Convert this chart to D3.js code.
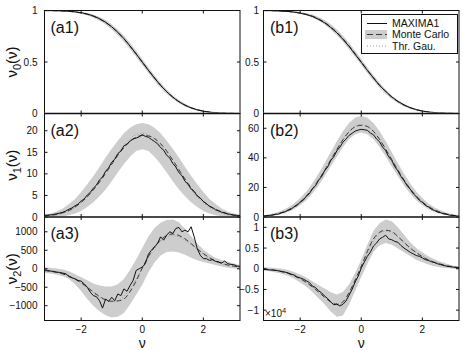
<!DOCTYPE html>
<html>
<head>
<meta charset="utf-8">
<script src="https://cdn.jsdelivr.net/npm/d3@7"></script>
<style>
  body { margin: 0; background: #fff; }
  svg { display: block; font-family: "Liberation Sans", Arial, sans-serif; }
</style>
</head>
<body>
<svg id="chart" width="463" height="350"></svg>
<script>
// ---- grids (threshold nu) ----------------------------------------
const nuCoarse = [-3.2,-3.0,-2.8,-2.6,-2.4,-2.2,-2.0,-1.8,-1.6,-1.4,-1.2,-1.0,-0.8,-0.6,-0.4,-0.2,0,
                  0.2,0.4,0.6,0.8,1.0,1.2,1.4,1.6,1.8,2.0,2.2,2.4,2.6,2.8,3.0,3.2];
const nuFine = [-3.2,-3.1,-3.0,-2.9,-2.8,-2.7,-2.6,-2.5,-2.4,-2.3,-2.2,-2.1,-2.0,-1.9,-1.8,-1.7,-1.6,
                -1.5,-1.4,-1.3,-1.2,-1.1,-1.0,-0.9,-0.8,-0.7,-0.6,-0.5,-0.4,-0.3,-0.2,-0.1,0,
                0.1,0.2,0.3,0.4,0.5,0.6,0.7,0.8,0.9,1.0,1.1,1.2,1.3,1.4,1.5,1.6,1.7,1.8,1.9,2.0,
                2.1,2.2,2.3,2.4,2.5,2.6,2.7,2.8,2.9,3.0,3.1,3.2];

// ---- v0 (row 1) ---------------------------------------------------
const v0Thr   = [0.999,0.999,0.997,0.995,0.992,0.986,0.977,0.964,0.945,0.919,0.885,0.841,0.788,0.726,0.655,0.579,0.5,
                 0.421,0.345,0.274,0.212,0.159,0.115,0.081,0.055,0.036,0.023,0.014,0.008,0.005,0.003,0.001,0.001];
const v0Upper = [1.0,1.0,0.999,0.998,0.996,0.992,0.985,0.975,0.96,0.938,0.907,0.866,0.816,0.756,0.686,0.61,0.53,
                 0.45,0.372,0.299,0.234,0.178,0.13,0.094,0.065,0.044,0.029,0.018,0.011,0.007,0.004,0.002,0.001];
const v0Lower = [0.998,0.997,0.995,0.992,0.988,0.98,0.969,0.953,0.93,0.9,0.863,0.816,0.76,0.696,0.624,0.548,0.47,
                 0.392,0.318,0.249,0.19,0.14,0.1,0.068,0.045,0.028,0.017,0.01,0.005,0.003,0.001,0,0];
const a1Maxima = [1.0,0.999,0.998,0.996,0.993,0.987,0.979,0.966,0.947,0.921,0.886,0.842,0.789,0.727,0.655,0.578,0.499,
                  0.42,0.344,0.273,0.211,0.158,0.114,0.08,0.054,0.035,0.022,0.013,0.008,0.004,0.002,0.001,0.0];
const a1Mc     = [0.999,0.998,0.997,0.995,0.991,0.985,0.976,0.963,0.944,0.918,0.884,0.84,0.787,0.725,0.654,0.578,0.5,
                  0.422,0.346,0.275,0.213,0.16,0.116,0.082,0.056,0.037,0.024,0.015,0.009,0.005,0.003,0.002,0.001];
const b1Maxima = [1.0,0.999,0.997,0.994,0.99,0.984,0.974,0.96,0.943,0.914,0.881,0.835,0.784,0.72,0.652,0.574,0.497,
                  0.418,0.345,0.272,0.215,0.16,0.118,0.083,0.057,0.038,0.024,0.015,0.009,0.005,0.003,0.001,0.0];
const b1Mc     = [0.999,0.998,0.997,0.995,0.991,0.985,0.976,0.963,0.945,0.919,0.885,0.841,0.788,0.727,0.656,0.58,0.501,
                  0.422,0.346,0.275,0.213,0.16,0.116,0.082,0.056,0.037,0.024,0.015,0.009,0.005,0.003,0.002,0.001];

// ---- v1 (row 2) ---------------------------------------------------
const a2Thr   = [0.2,0.3,0.5,0.9,1.4,2.2,3.3,4.6,6.3,8.2,10.4,12.6,14.7,16.6,18.1,19.1,19.4,
                 19.1,18.1,16.6,14.7,12.6,10.4,8.2,6.3,4.6,3.3,2.2,1.4,0.9,0.5,0.3,0.2];
const a2Upper = [0.5,0.8,1.3,2.0,3.0,4.2,5.8,7.6,9.5,11.6,13.8,15.8,17.7,19.4,20.7,21.5,21.8,
                 21.5,20.7,19.4,17.7,15.8,13.8,11.6,9.5,7.6,5.8,4.2,3.0,2.0,1.3,0.8,0.5];
const a2Lower = [0,0,0.1,0.2,0.4,0.8,1.4,2.3,3.4,4.8,6.4,8.3,10.3,12.3,14.0,15.3,15.7,
                 15.3,14.0,12.3,10.3,8.3,6.4,4.8,3.4,2.3,1.4,0.8,0.4,0.2,0.1,0,0];
const a2Mc    = [0.3,0.4,0.6,1.0,1.5,2.3,3.4,4.7,6.3,8.1,10.1,12.2,14.3,16.1,17.5,18.5,18.9,
                 18.8,18.2,17.0,15.3,13.2,11.0,8.8,6.8,5.0,3.6,2.5,1.7,1.1,0.7,0.4,0.3];
const a2Maxima = [0.4,0.45,0.5,0.6,0.75,0.9,1.1,1.4,1.8,2.1,2.6,3.0,3.7,4.2,5.1,5.7,6.7,
                  7.4,8.6,9.3,10.6,11.4,12.7,13.4,14.7,15.3,16.5,16.9,17.6,18.1,18.3,18.6,19.1,
                  18.7,18.5,18.0,17.5,17.0,16.1,15.5,14.3,13.7,12.4,11.6,10.3,9.6,8.3,7.6,6.5,5.9,4.9,4.4,3.6,
                  3.1,2.5,2.2,1.7,1.5,1.1,1.0,0.7,0.6,0.45,0.4,0.3];

const b2Thr   = [0.7,1.2,2.0,3.1,4.8,7.1,10.2,14.3,19.3,25.2,31.8,38.9,46.0,52.6,58.0,61.4,62.5,
                 61.4,58.0,52.6,46.0,38.9,31.8,25.2,19.3,14.3,10.2,7.1,4.8,3.1,2.0,1.2,0.7];
const b2Upper = [1.2,1.9,2.9,4.4,6.4,9.2,12.8,17.3,22.8,29.2,36.3,43.8,51.2,58.0,63.6,67.2,68.4,
                 67.2,63.6,58.0,51.2,43.8,36.3,29.2,22.8,17.3,12.8,9.2,6.4,4.4,2.9,1.9,1.2];
const b2Lower = [0.3,0.6,1.1,2.0,3.3,5.2,7.9,11.4,15.9,21.3,27.5,34.2,41.0,47.3,52.6,56.0,57.2,
                 56.0,52.6,47.3,41.0,34.2,27.5,21.3,15.9,11.4,7.9,5.2,3.3,2.0,1.1,0.6,0.3];
const b2Mc    = [0.7,1.2,1.9,3.0,4.7,7.0,10.1,14.1,19.0,24.9,31.5,38.5,45.6,52.2,57.6,61.0,62.0,
                 61.2,57.9,52.5,45.9,38.8,31.7,25.0,19.1,14.2,10.2,7.1,4.8,3.1,2.0,1.2,0.7];
const b2Maxima = [0.5,0.8,1.1,1.2,1.8,2.0,2.9,3.4,4.5,5.2,6.9,7.8,10.1,11.3,14.0,15.7,19.1,
                  21.0,24.8,27.2,31.3,33.8,38.1,40.8,44.7,47.3,50.6,52.7,55.2,56.6,58.1,58.8,59.3,
                  59.0,58.6,56.8,55.6,52.8,50.9,47.2,44.9,40.7,38.2,33.9,31.2,27.3,24.6,21.2,18.9,15.8,13.8,11.3,9.9,
                  7.8,6.8,5.2,4.4,3.3,2.9,2.1,1.8,1.2,1.0,0.7,0.5];

// ---- v2 (row 3) ---------------------------------------------------
const a3Thr   = [-40,-55,-85,-130,-195,-285,-395,-520,-650,-770,-860,-895,-860,-745,-545,-290,0,
                 290,545,745,860,895,860,770,650,520,395,285,195,130,85,55,40];
const a3Upper = [40,25,10,-20,-70,-150,-230,-310,-400,-450,-480,-480,-420,-280,-30,250,560,
                 870,1100,1245,1320,1335,1260,1080,880,680,520,390,300,240,190,140,100];
const a3Lower = [-115,-130,-160,-200,-280,-420,-600,-820,-1000,-1150,-1260,-1320,-1300,-1200,-970,-700,-430,
                 -100,170,360,450,470,440,380,300,230,180,140,100,60,30,10,0];
const a3Mc    = [-50,-70,-100,-140,-200,-280,-380,-500,-630,-750,-840,-880,-870,-820,-620,-330,20,
                 330,590,780,900,940,900,810,680,540,410,300,210,150,100,70,50];
const a3Maxima = [-27,-45,-64,-73,-91,-100,-118,-136,-209,-245,-273,-318,-336,-409,-500,-636,-727,
                  -755,-864,-1064,-818,-882,-773,-864,-682,-727,-545,-609,-455,-318,-45,0,45,
                  136,391,500,591,682,864,773,909,1000,955,1091,1118,1000,1045,1000,1136,864,545,364,273,
                  273,227,245,200,182,155,209,136,118,109,73,64];

// b3 values in units of 1e4
const b3Thr   = [-0.01,-0.02,-0.04,-0.06,-0.1,-0.16,-0.23,-0.32,-0.43,-0.55,-0.68,-0.8,-0.88,-0.84,-0.62,-0.32,0,
                 0.35,0.66,0.85,0.91,0.87,0.76,0.62,0.5,0.4,0.31,0.23,0.17,0.12,0.08,0.05,0.03];
const b3Upper = [0.04,0.03,0.02,0,-0.03,-0.08,-0.14,-0.21,-0.3,-0.39,-0.48,-0.57,-0.62,-0.56,-0.38,-0.1,0.22,
                 0.58,0.92,1.1,1.19,1.15,1.0,0.82,0.64,0.5,0.39,0.3,0.23,0.17,0.12,0.08,0.05];
const b3Lower = [-0.04,-0.06,-0.09,-0.12,-0.17,-0.24,-0.33,-0.43,-0.56,-0.71,-0.86,-1.03,-1.16,-1.13,-0.87,-0.53,-0.2,
                 0.12,0.41,0.57,0.62,0.58,0.49,0.4,0.31,0.22,0.16,0.1,0.06,0.03,0.02,0,-0.01];
const b3Mc    = [-0.01,-0.02,-0.04,-0.07,-0.11,-0.17,-0.24,-0.33,-0.44,-0.56,-0.69,-0.8,-0.86,-0.8,-0.58,-0.27,0.06,
                 0.42,0.72,0.88,0.93,0.9,0.78,0.64,0.5,0.39,0.29,0.21,0.15,0.11,0.07,0.05,0.03];
const b3Maxima = [-0.02,-0.02,-0.03,-0.03,-0.04,-0.05,-0.07,-0.08,-0.1,-0.13,-0.15,-0.2,-0.22,-0.25,-0.29,-0.33,-0.42,
                  -0.45,-0.53,-0.58,-0.66,-0.72,-0.8,-0.87,-0.85,-0.9,-0.86,-0.78,-0.64,-0.5,-0.32,-0.18,0.02,
                  0.16,0.3,0.4,0.55,0.62,0.72,0.76,0.81,0.72,0.7,0.66,0.64,0.56,0.5,0.45,0.4,0.36,0.32,0.3,0.26,
                  0.22,0.2,0.17,0.15,0.12,0.1,0.08,0.06,0.05,0.04,0.03,0.02];

// ---- ticks / labels ----------------------------------------------
const xTicks = [-2, 0, 2];
const legendLabels = ["MAXIMA1", "Monte Carlo", "Thr. Gau."];

// ---- layout --------------------------------------------------------
const svg = d3.select("#chart");
const cols = [{ x0: 44.5, x1: 240, labelX: 37.5, tagX: 50.5 },
              { x0: 263.5, x1: 459, labelX: 259, tagX: 270 }];
const rowEdges = [10.5, 113.5, 217, 320.5];
const BAND = "#cdcdcd";

const panels = [
  { tag: "(a1)", col: 0, row: 0, dom: [0, 1],        ticks: [0, 0.5, 1],              band: [v0Upper, v0Lower], thr: v0Thr, mc: a1Mc, max: a1Maxima, maxNu: nuCoarse, sub: "0" },
  { tag: "(b1)", col: 1, row: 0, dom: [0, 1],        ticks: [0, 0.5, 1],              band: [v0Upper, v0Lower], thr: v0Thr, mc: b1Mc, max: b1Maxima, maxNu: nuCoarse },
  { tag: "(a2)", col: 0, row: 1, dom: [0, 24],       ticks: [0, 5, 10, 15, 20],       band: [a2Upper, a2Lower], thr: a2Thr, mc: a2Mc, max: a2Maxima, maxNu: nuFine, sub: "1" },
  { tag: "(b2)", col: 1, row: 1, dom: [0, 70],       ticks: [0, 20, 40, 60],          band: [b2Upper, b2Lower], thr: b2Thr, mc: b2Mc, max: b2Maxima, maxNu: nuFine },
  { tag: "(a3)", col: 0, row: 2, dom: [-1400, 1400], ticks: [-1000, -500, 0, 500, 1000], band: [a3Upper, a3Lower], thr: a3Thr, mc: a3Mc, max: a3Maxima, maxNu: nuFine, sub: "2" },
  { tag: "(b3)", col: 1, row: 2, dom: [-1.25, 1.25], ticks: [-1, -0.5, 0, 0.5, 1],    band: [b3Upper, b3Lower], thr: b3Thr, mc: b3Mc, max: b3Maxima, maxNu: nuFine, exp10: true }
];

const fmtTick = d => d3.format("")(d).replace("-", "\u2212");

panels.forEach((p, i) => {
  const c = cols[p.col];
  const top = rowEdges[p.row], bot = rowEdges[p.row + 1];
  const x = d3.scaleLinear().domain([-3.2, 3.2]).range([c.x0, c.x1]);
  const y = d3.scaleLinear().domain(p.dom).range([bot, top]);
  const g = svg.append("g");

  const clipId = `clip-${i}`;
  g.append("clipPath").attr("id", clipId)
    .append("rect").attr("x", c.x0).attr("y", top).attr("width", c.x1 - c.x0).attr("height", bot - top);

  const plot = g.append("g").attr("clip-path", `url(#${clipId})`);

  // spread band
  const area = d3.area()
    .x((d, k) => x(nuCoarse[k]))
    .y0((d, k) => y(p.band[1][k]))
    .y1((d, k) => y(p.band[0][k]));
  plot.append("path").datum(p.band[0]).attr("d", area).attr("fill", BAND);

  const lineOn = nus => d3.line().x((d, k) => x(nus[k])).y(d => y(d));

  // Thr. Gau. (dotted)
  plot.append("path").datum(p.thr).attr("d", lineOn(nuCoarse).curve(d3.curveMonotoneX))
    .attr("fill", "none").attr("stroke", "#9a9a9a").attr("stroke-width", 1)
    .attr("stroke-dasharray", "1,2");
  // Monte Carlo (dashed)
  plot.append("path").datum(p.mc).attr("d", lineOn(nuCoarse).curve(d3.curveMonotoneX))
    .attr("fill", "none").attr("stroke", "#3a3a3a").attr("stroke-width", 1)
    .attr("stroke-dasharray", "5,3");
  // MAXIMA1 (solid)
  plot.append("path").datum(p.max).attr("d", lineOn(p.maxNu))
    .attr("fill", "none").attr("stroke", "#111").attr("stroke-width", 1);

  // box
  g.append("rect").attr("x", c.x0).attr("y", top).attr("width", c.x1 - c.x0).attr("height", bot - top)
    .attr("fill", "none").attr("stroke", "#111").attr("stroke-width", 1);
  if (p.row < 2) {
    g.append("line").attr("x1", c.x0).attr("x2", c.x1).attr("y1", bot).attr("y2", bot)
      .attr("stroke", "#858585").attr("stroke-width", 2);
  }

  // inward ticks
  const tl = 3;
  xTicks.forEach(t => {
    g.append("line").attr("x1", x(t)).attr("x2", x(t)).attr("y1", top).attr("y2", top + tl).attr("stroke", "#111");
    g.append("line").attr("x1", x(t)).attr("x2", x(t)).attr("y1", bot).attr("y2", bot - tl).attr("stroke", "#111");
  });
  p.ticks.forEach(t => {
    g.append("line").attr("x1", c.x0).attr("x2", c.x0 + tl).attr("y1", y(t)).attr("y2", y(t)).attr("stroke", "#111");
    g.append("line").attr("x1", c.x1).attr("x2", c.x1 - tl).attr("y1", y(t)).attr("y2", y(t)).attr("stroke", "#111");
    g.append("text").attr("x", c.labelX).attr("y", y(t)).attr("dy", "0.35em")
      .attr("text-anchor", "end").attr("font-size", 10).attr("fill", "#111")
      .text(fmtTick(t));
  });

  // x tick labels and axis label on bottom row
  if (p.row === 2) {
    xTicks.forEach(t => {
      g.append("text").attr("x", x(t)).attr("y", 332.5).attr("text-anchor", "middle")
        .attr("font-size", 10).attr("fill", "#111").text(fmtTick(t));
    });
    g.append("text").attr("x", x(0)).attr("y", 347.5).attr("text-anchor", "middle")
      .attr("font-size", 14).attr("fill", "#111").text("\u03bd");
  }

  // panel tag
  g.append("text").attr("x", c.tagX).attr("y", top + 22.3)
    .attr("font-size", 16).attr("fill", "#111").text(p.tag);

  // y label on left column
  if (p.sub) {
    const cy = (top + bot) / 2;
    const t = g.append("text").attr("transform", `translate(17,${cy}) rotate(-90)`)
      .attr("text-anchor", "middle").attr("font-size", 15).attr("fill", "#111");
    t.append("tspan").text("\u03bd");
    t.append("tspan").attr("font-size", 11).attr("dy", 4).text(p.sub);
    t.append("tspan").attr("dy", -4).text("(\u03bd)");
  }

  if (p.exp10) {
    const t = g.append("text").attr("x", c.x0 + 1.5).attr("y", bot - 3.5)
      .attr("font-size", 10).attr("fill", "#111");
    t.append("tspan").text("\u00d710");
    t.append("tspan").attr("font-size", 7.5).attr("dy", -4.5).text("4");
  }
});

// ---- legend --------------------------------------------------------
const leg = svg.append("g");
leg.append("rect").attr("x", 361.5).attr("y", 14.5).attr("width", 96).attr("height", 39)
  .attr("fill", "#fff").attr("stroke", "#111").attr("stroke-width", 1);
const legY = [23.5, 34.5, 46];
leg.append("rect").attr("x", 365).attr("y", 30).attr("width", 22).attr("height", 9).attr("fill", BAND);
const legStyles = [
  { stroke: "#111", dash: null },
  { stroke: "#3a3a3a", dash: "6,3" },
  { stroke: "#9a9a9a", dash: "1,2" }
];
legendLabels.forEach((lab, k) => {
  leg.append("line").attr("x1", 367).attr("x2", 387).attr("y1", legY[k]).attr("y2", legY[k])
    .attr("stroke", legStyles[k].stroke).attr("stroke-width", 1)
    .attr("stroke-dasharray", legStyles[k].dash);
  leg.append("text").attr("x", 392).attr("y", legY[k] + 3.8).attr("font-size", 10.5)
    .attr("fill", "#111").text(lab);
});
</script>
</body>
</html>
